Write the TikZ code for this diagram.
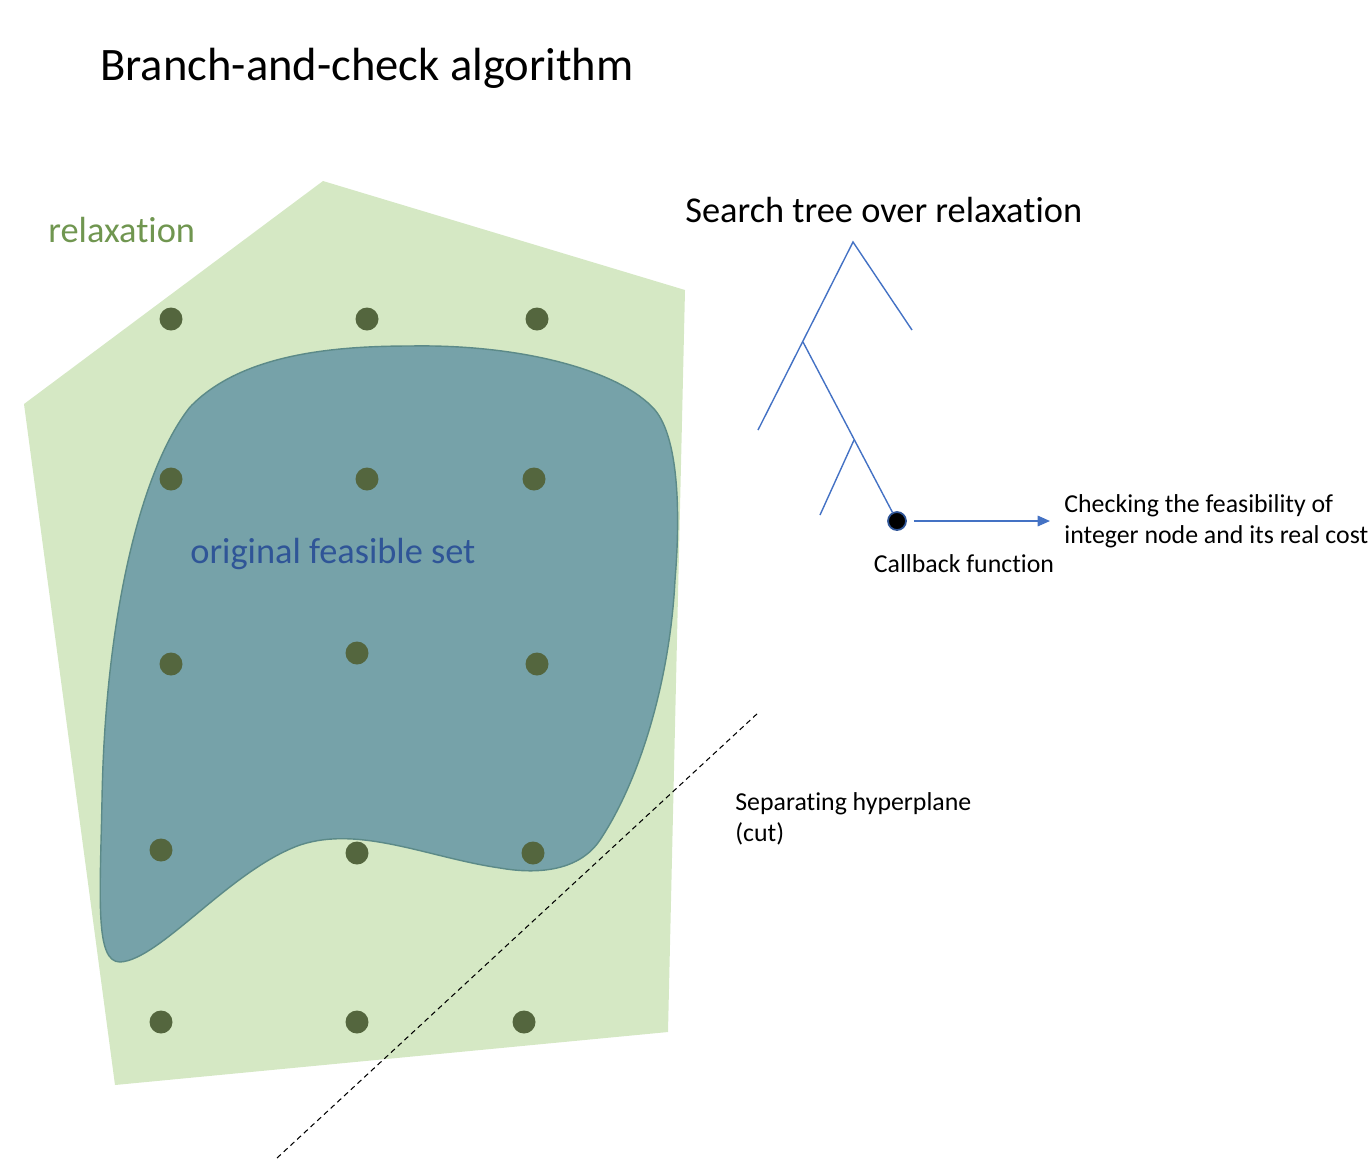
\documentclass[tikz,border=0pt]{standalone}
\usepackage{fontspec}
\setmainfont{Carlito}[Ligatures=NoCommon]
\usetikzlibrary{arrows.meta}

\definecolor{relaxfill}{RGB}{213,232,196}
\definecolor{relaxtext}{RGB}{112,150,80}
\definecolor{setfill}{RGB}{118,162,169}
\definecolor{setedge}{RGB}{92,138,136}
\definecolor{settext}{RGB}{47,85,151}
\definecolor{ptgreen}{RGB}{84,102,62}
\definecolor{treeblue}{RGB}{68,114,196}

\begin{document}
\begin{tikzpicture}[x=0.02cm,y=-0.02cm,
    lattpt/.style={circle,fill=ptgreen,inner sep=0pt,minimum size=0.46cm},
    label/.style={anchor=base west,inner sep=0pt},
    small/.style={font=\fontsize{14.7}{17.5}\selectfont},
    big/.style={font=\fontsize{20.7}{24}\selectfont},
    edge/.style={treeblue,line width=0.8pt},
    cbnode/.style={circle,fill=black,draw=settext,line width=1pt,inner sep=0pt,minimum size=0.36cm}]
    \useasboundingbox (0,0) rectangle (1369,1161);

    \node[label,font=\fontsize{26.5}{30}\selectfont] (title) at (100,80) {Branch-and-check algorithm};

    % relaxation polygon and feasible set
    \fill[relaxfill] (323,181) -- (685,290) -- (668,1032) -- (115,1085) -- (24,404) -- cycle;
    \draw[setedge,fill=setfill,line width=0.8pt] (410,346)
        .. controls (520,344) and (620,370) .. (655,410)
        .. controls (680,440) and (680,520) .. (675,580)
        .. controls (670,680) and (640,780) .. (600,840)
        .. controls (580,870) and (540,875) .. (500,868)
        .. controls (430,858) and (360,825) .. (300,845)
        .. controls (230,870) and (160,960) .. (120,962)
        .. controls (95,962) and (100,900) .. (102,800)
        .. controls (105,620) and (140,470) .. (190,407)
        .. controls (240,355) and (330,346) .. (410,346) -- cycle;

    \node[label,big,text=relaxtext] (relax) at (48,242) {relaxation};
    \node[label,big,text=settext] (orig) at (190,563) {original feasible set};

    % integer points
    \foreach \x/\y [count=\i] in {171/319,367/319,537/319,
                                  171/479,367/479,534/479,
                                  171/664,357/653,537/664,
                                  161/850,357/853,533/853,
                                  161/1022,357/1022,524/1022}
        \node[lattpt] (p\i) at (\x,\y) {};

    % cut
    \coordinate (cutA) at (277,1158);
    \coordinate (cutB) at (759,712);
    \draw[line width=0.6pt,dash pattern=on 3pt off 2.2pt] (cutA) -- (cutB);
    \node[label,small,align=left,anchor=north west] (sep) at (735,792)
        {Separating hyperplane\\(cut)};

    % search tree
    \node[label,big] (stree) at (685,222) {Search tree over relaxation};
    \coordinate (root) at (853,242);
    \coordinate (rleaf) at (912,330);
    \coordinate (b1) at (803,342);
    \coordinate (lleaf) at (758,430);
    \coordinate (b2) at (854,440);
    \coordinate (lleaf2) at (820,515);
    \node[cbnode] (cb) at (897,521) {};
    \draw[edge] (rleaf) -- (root) -- (lleaf);
    \draw[edge] (b1) -- (cb);
    \draw[edge] (b2) -- (lleaf2);

    \node[small,align=left,anchor=west,inner xsep=8pt,inner ysep=0pt] (check) at (1050,521)
        {Checking the feasibility of\\integer node and its real cost};
    \draw[edge,shorten <=4pt,-{Triangle[length=7pt,width=6pt]}] (cb) -- (check.west);
    \node[small,anchor=base,inner sep=0pt] (cbtext) at (964,572) {Callback function};
\end{tikzpicture}
\end{document}
